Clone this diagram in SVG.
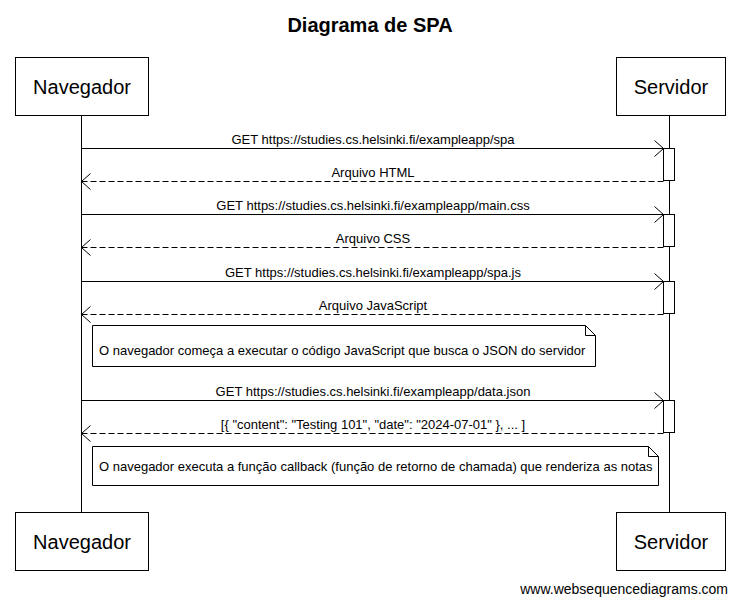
<svg xmlns="http://www.w3.org/2000/svg" width="738" height="604" viewBox="0 0 738 604">
<style>
text{font-family:"Liberation Sans",Arial,sans-serif;fill:#000}
.actor rect{fill:#fff;stroke:#000;stroke-width:1}
.actor text{font-size:20px;text-anchor:middle}
.life{stroke:#000;stroke-width:1}
.msg{stroke:#000;stroke-width:1;fill:none}
.ret{stroke:#000;stroke-width:1;fill:none;stroke-dasharray:6,3}
.lbl{font-size:13px;text-anchor:middle}
.act{fill:#fff;stroke:#000;stroke-width:1}
.note path{fill:#fff;stroke:#000;stroke-width:1}
.note text{font-size:13px}
</style>
<defs>
<marker id="ah" markerWidth="12" markerHeight="18" refX="10" refY="9" orient="auto" markerUnits="userSpaceOnUse">
<path d="M1,1 L10,9 L1,17" fill="none" stroke="#000" stroke-width="1"/>
</marker>
</defs>
<rect width="738" height="604" fill="#fff"/>
<text x="370" y="32" font-size="20" font-weight="bold" text-anchor="middle">Diagrama de SPA</text>

<g id="lifelines">
<line class="life" x1="81.5" y1="115" x2="81.5" y2="512"/>
<line class="life" x1="669.5" y1="115" x2="669.5" y2="512"/>
</g>

<g id="activations">
<rect class="act" x="663.5" y="148.5" width="11" height="32"/>
<rect class="act" x="663.5" y="214.5" width="11" height="32"/>
<rect class="act" x="663.5" y="281.5" width="11" height="32"/>
<rect class="act" x="663.5" y="400.5" width="11" height="32"/>
</g>

<g id="connectors">
<line class="msg" x1="81.5" y1="148.5" x2="663.5" y2="148.5" marker-end="url(#ah)"/>
<text class="lbl" x="373" y="144">GET https://studies.cs.helsinki.fi/exampleapp/spa</text>
<line class="ret" x1="663.5" y1="181.5" x2="81.5" y2="181.5" marker-end="url(#ah)"/>
<text class="lbl" x="373" y="177">Arquivo HTML</text>
<line class="msg" x1="81.5" y1="214.5" x2="663.5" y2="214.5" marker-end="url(#ah)"/>
<text class="lbl" x="373" y="210">GET https://studies.cs.helsinki.fi/exampleapp/main.css</text>
<line class="ret" x1="663.5" y1="247.5" x2="81.5" y2="247.5" marker-end="url(#ah)"/>
<text class="lbl" x="373" y="243">Arquivo CSS</text>
<line class="msg" x1="81.5" y1="281.5" x2="663.5" y2="281.5" marker-end="url(#ah)"/>
<text class="lbl" x="373" y="277">GET https://studies.cs.helsinki.fi/exampleapp/spa.js</text>
<line class="ret" x1="663.5" y1="314.5" x2="81.5" y2="314.5" marker-end="url(#ah)"/>
<text class="lbl" x="373" y="310">Arquivo JavaScript</text>
<line class="msg" x1="81.5" y1="400.5" x2="663.5" y2="400.5" marker-end="url(#ah)"/>
<text class="lbl" x="373" y="396">GET https://studies.cs.helsinki.fi/exampleapp/data.json</text>
<line class="ret" x1="663.5" y1="433.5" x2="81.5" y2="433.5" marker-end="url(#ah)"/>
<text class="lbl" x="373" y="429">[{ "content": "Testing 101", "date": "2024-07-01" }, ... ]</text>
</g>

<g id="note1" class="note">
<path d="M92.5,325.5 H585.5 L595.5,335.5 V366.5 H92.5 Z M585.5,325.5 V335.5 H595.5"/>
<text x="99" y="355">O navegador começa a executar o código JavaScript que busca o JSON do servidor</text>
</g>
<g id="note2" class="note">
<path d="M92.5,446.5 H648.5 L658.5,456.5 V485.5 H92.5 Z M648.5,446.5 V456.5 H658.5"/>
<text x="99" y="471">O navegador executa a função callback (função de retorno de chamada) que renderiza as notas</text>
</g>

<g id="navegador-top" class="actor">
<rect x="15.5" y="57.5" width="133" height="58"/>
<text x="82" y="94">Navegador</text>
</g>
<g id="servidor-top" class="actor">
<rect x="616.5" y="57.5" width="109" height="58"/>
<text x="671" y="94">Servidor</text>
</g>
<g id="navegador-bottom" class="actor">
<rect x="15.5" y="512.5" width="133" height="58"/>
<text x="82" y="549">Navegador</text>
</g>
<g id="servidor-bottom" class="actor">
<rect x="616.5" y="512.5" width="109" height="58"/>
<text x="671" y="549">Servidor</text>
</g>

<text x="728" y="594" font-size="14" text-anchor="end">www.websequencediagrams.com</text>
</svg>
